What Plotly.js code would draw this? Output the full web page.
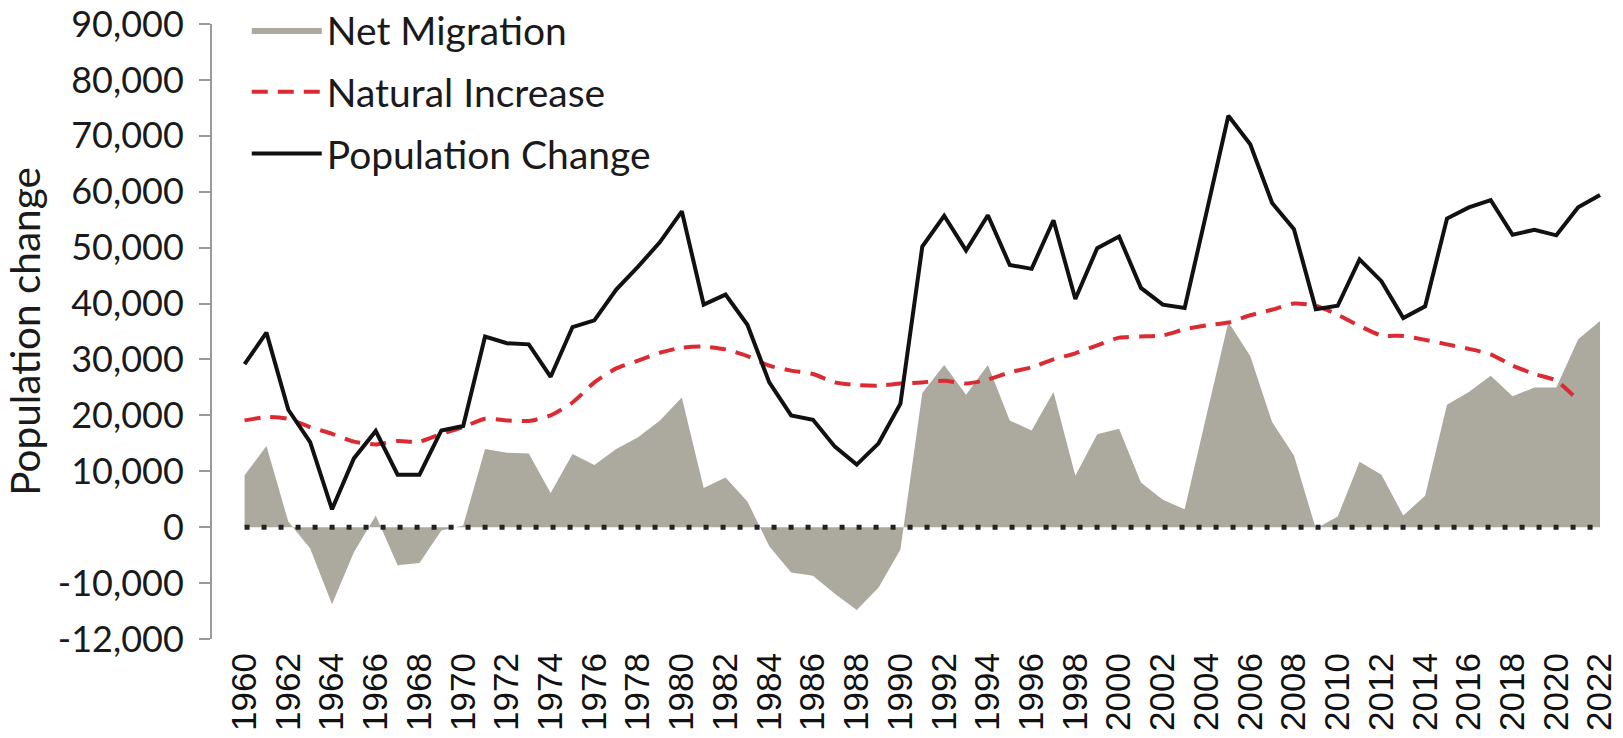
<!DOCTYPE html>
<html>
<head>
<meta charset="utf-8">
<script src="https://cdn.plot.ly/plotly-3.0.1.min.js"></script>
<style>
  html, body { margin: 0; padding: 0; background: #ffffff; }
  #chart { width: 1623px; height: 738px; }
</style>
</head>
<body>
<div id="chart"></div>
<script>
// ---- Data ----
const years = [
  1960,1961,1962,1963,1964,1965,1966,1967,1968,1969,
  1970,1971,1972,1973,1974,1975,1976,1977,1978,1979,
  1980,1981,1982,1983,1984,1985,1986,1987,1988,1989,
  1990,1991,1992,1993,1994,1995,1996,1997,1998,1999,
  2000,2001,2002,2003,2004,2005,2006,2007,2008,2009,
  2010,2011,2012,2013,2014,2015,2016,2017,2018,2019,
  2020,2021,2022
];

const netMigration = [
  9300, 14500, 1000, -3800, -13800, -4500, 2100, -6800, -6400, -600,
  300, 14000, 13300, 13200, 6100, 13100, 11100, 14000, 16100, 19100,
  23200, 7000, 8900, 4600, -3400, -8100, -8700, -11900, -14800, -10800,
  -4000, 24000, 29000, 23700, 29000, 19100, 17300, 24200, 9200, 16600,
  17600, 8000, 4900, 3200, 20000, 36700, 30600, 18800, 12800, -300,
  1900, 11700, 9400, 2100, 5600, 21900, 24200, 27100, 23400, 25000,
  25000, 33600, 36900
];

const naturalIncrease = [
  19100, 19700, 19400, 17900, 16700, 15300, 14800, 15400, 15300, 16700,
  17900, 19400, 19100, 19000, 20000, 22300, 25900, 28400, 29800, 31200,
  32100, 32300, 31800, 30600, 28900, 28000, 27400, 25900, 25400, 25300,
  25700, 25900, 26200, 25700, 26400, 27700, 28600, 30000, 31100, 32500,
  33900, 34100, 34300, 35400, 36100, 36600, 37900, 38900, 40000, 39600,
  38000, 36000, 34300, 34200, 33500, 32700, 31900, 30900, 28900, 27400,
  26200, 22700, null
];

const populationChange = [
  29150, 34800, 21000, 15200, 3200, 12300, 17200, 9400, 9400, 17300,
  18100, 34100, 32900, 32700, 26900, 35800, 37000, 42500, 46600, 51000,
  56500, 39800, 41600, 36200, 25900, 20000, 19200, 14400, 11200, 15000,
  22100, 50200, 55700, 49500, 55800, 46900, 46200, 54900, 40800, 49900,
  52000, 42800, 39800, 39200, 56300, 73600, 68500, 58000, 53300, 39000,
  39600, 47900, 44000, 37400, 39500, 55200, 57200, 58500, 52300, 53200,
  52200, 57200, 59400
];

// Axis tick values and their printed labels (the source labels the
// bottom tick "-12,000")
const yTickVals = [-20000, -10000, 0, 10000, 20000, 30000, 40000, 50000, 60000, 70000, 80000, 90000];
const yTickText = ["-12,000", "-10,000", "0", "10,000", "20,000", "30,000", "40,000", "50,000", "60,000", "70,000", "80,000", "90,000"];
const xTickVals = years.filter((y, i) => i % 2 === 0);
const xTickText = xTickVals.map(String);

const seriesNames = ["Net Migration", "Natural Increase", "Population Change"];

// ---- Traces ----
const traces = [
  {
    x: years, y: netMigration, name: seriesNames[0],
    type: 'scatter', mode: 'lines', fill: 'tozeroy',
    fillcolor: '#aca99f', line: { width: 0, color: '#aca99f' },
    legendgroup: 'a', hoverinfo: 'x+y'
  },
  {
    x: years, y: naturalIncrease, name: seriesNames[1],
    type: 'scatter', mode: 'lines',
    line: { color: '#dc2a33', width: 4, dash: '16px,10px', shape: 'spline', smoothing: 0.6 },
    connectgaps: false, legendgroup: 'b'
  },
  {
    x: years, y: populationChange, name: seriesNames[2],
    type: 'scatter', mode: 'lines',
    line: { color: '#111111', width: 4 },
    legendgroup: 'c'
  }
];

const layout = {
  width: 1623, height: 738,
  margin: { l: 212, r: 21, t: 24, b: 99, pad: 0, autoexpand: false },
  paper_bgcolor: '#ffffff', plot_bgcolor: '#ffffff',
  showlegend: true,
  legend: {
    x: 0.025, y: 1.042, xanchor: 'left', yanchor: 'top',
    font: { family: 'Lato, "Open Sans", sans-serif', size: 39, color: '#1a1a1a' },
    bgcolor: 'rgba(0,0,0,0)', borderwidth: 0,
    traceorder: 'grouped', tracegroupgap: 8, itemwidth: 70
  },
  xaxis: {
    type: 'linear', range: [1958.51, 2022.09],
    tickmode: 'array', tickvals: xTickVals, ticktext: xTickText,
    tickangle: -90, ticks: '', showline: false, showgrid: false, zeroline: false,
    tickfont: { family: '"Liberation Sans", Arial, sans-serif', size: 35, color: '#111111' },
    ticklabelstandoff: 6, ticklabeloverflow: 'allow', fixedrange: true
  },
  yaxis: {
    range: [-20000, 90000],
    tickmode: 'array', tickvals: yTickVals, ticktext: yTickText,
    ticks: 'outside', ticklen: 11, tickwidth: 2, tickcolor: '#9a9a9a',
    showline: true, linecolor: '#9a9a9a', linewidth: 2,
    showgrid: false, zeroline: false,
    tickfont: { family: 'Lato, "Open Sans", sans-serif', size: 36, color: '#1a1a1a' },
    ticklabelstandoff: 8, ticklabeloverflow: 'allow',
    title: { text: 'Population change', font: { family: 'Lato, "Open Sans", sans-serif', size: 40.5, color: '#1a1a1a' }, standoff: 8 },
    fixedrange: true
  },
  shapes: [
    {
      type: 'line', xref: 'x', yref: 'y', layer: 'above',
      x0: years[0], x1: years[years.length - 1], y0: 0, y1: 0,
      line: { color: '#222222', width: 5, dash: '5px,12px' }
    }
  ]
};

Plotly.newPlot('chart', traces, layout, { displayModeBar: false, staticPlot: true });
</script>
</body>
</html>
